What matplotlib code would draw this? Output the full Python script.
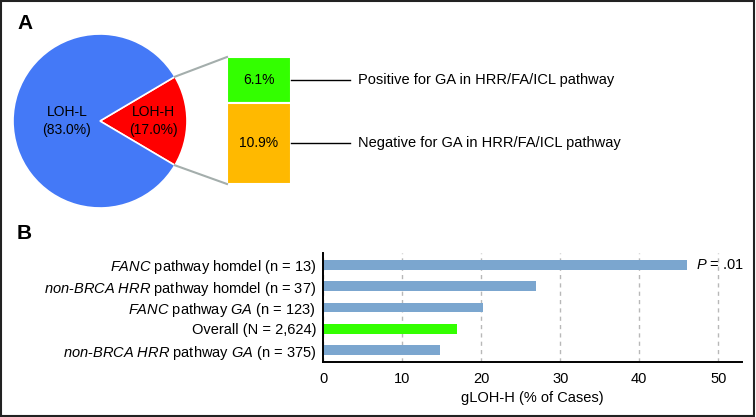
import numpy as np
import matplotlib
matplotlib.use('Agg')
import matplotlib.pyplot as plt
from matplotlib.patches import Rectangle

plt.rcParams['font.family'] = ['Liberation Sans', 'DejaVu Sans']
plt.rcParams['font.size'] = 10.5
plt.rcParams['mathtext.fontset'] = 'custom'
plt.rcParams['mathtext.rm'] = 'Liberation Sans'
plt.rcParams['mathtext.it'] = 'Liberation Sans:italic'

# panel A data
pie_labels = ['LOH-H', 'LOH-L']
pie_values = [17.0, 83.0]
pie_colors = ['#ff0000', '#4479f7']
sub_labels = ['Positive for GA in HRR/FA/ICL pathway',
              'Negative for GA in HRR/FA/ICL pathway']
sub_values = [6.1, 10.9]
sub_colors = ['#33ff00', '#ffb900']

# panel B data
bar_labels = [
    r'$\mathit{FANC}$ pathway homdel (n = 13)',
    r'$\mathit{non}$-$\mathit{BRCA\ HRR}$ pathway homdel (n = 37)',
    r'$\mathit{FANC}$ pathway $\mathit{GA}$ (n = 123)',
    'Overall (N = 2,624)',
    r'$\mathit{non}$-$\mathit{BRCA\ HRR}$ pathway $\mathit{GA}$ (n = 375)',
]
bar_values = [46.1, 27.0, 20.3, 17.0, 14.8]
bar_colors = ['#7ba6cf', '#7ba6cf', '#7ba6cf', '#33ff00', '#7ba6cf']
x_ticks = [0, 10, 20, 30, 40, 50]
p_text = r'$\mathit{P}$ = .01'

W, H = 756, 417
fig = plt.figure(figsize=(W / 100, H / 100), dpi=100)

# ---- panel A, drawn in pixel coordinates ----
ax = fig.add_axes([0, 0, 1, 1])
cx, cy, r = 100, 121, 87
half = pie_values[0] * 3.6 / 2
wedges, _ = ax.pie(pie_values, colors=pie_colors, startangle=-half,
                   center=(cx, cy), radius=r,
                   wedgeprops=dict(edgecolor='white', linewidth=1.2))
ax.set_xlim(0, W)
ax.set_ylim(H, 0)
ax.set_aspect('equal')
ax.axis('off')

for w, lab, val, dist in zip(wedges, pie_labels, pie_values, [0.61, 0.38]):
    ang = np.deg2rad((w.theta1 + w.theta2) / 2)
    ax.text(cx + dist * r * np.cos(ang), cy + dist * r * np.sin(ang),
            f'{lab}\n({val:.1f}%)', ha='center', va='center',
            fontsize=10, linespacing=1.45)

# stacked sub-boxes
bx, bw, btop, bbot = 259, 64, 57, 184
scale = (bbot - btop) / sum(sub_values)
bottom = btop
for val, col, lab in zip(sub_values, sub_colors, sub_labels):
    ax.bar(bx, val * scale, bottom=bottom, width=bw, color=col,
           edgecolor='white', linewidth=1.5)
    ym = bottom + val * scale / 2
    ax.text(bx, ym, f'{val:.1f}%', ha='center', va='center', fontsize=10)
    ax.plot([bx + bw / 2, 350], [ym, ym], color='black', lw=1)
    ax.text(358, ym, lab, ha='left', va='center', fontsize=10.5)
    bottom += val * scale

# connector lines from wedge edges to box corners
t = np.deg2rad(half)
ex = cx + r * np.cos(t)
ax.plot([ex, bx - bw / 2], [cy - r * np.sin(t), btop], color='#a4aeac', lw=1.5)
ax.plot([ex, bx - bw / 2], [cy + r * np.sin(t), bbot], color='#a4aeac', lw=1.5)

ax.text(17, 23, 'A', fontsize=15, fontweight='bold', va='center', ha='left')
ax.text(17, 233, 'B', fontsize=15, fontweight='bold', va='center', ha='left')

# ---- panel B ----
axb = fig.add_axes([323 / W, (H - 362) / H, (742 - 323) / W, (362 - 253) / H])
y = np.arange(len(bar_values))
axb.barh(y, bar_values, height=0.45, color=bar_colors, zorder=2)
axb.set_ylim(len(bar_values) - 0.44, -0.56)
axb.set_xlim(0, 53)
axb.set_xticks(x_ticks)
axb.set_yticks(y)
axb.set_yticklabels(bar_labels, fontsize=10.5)
axb.tick_params(axis='y', length=0, pad=5)
axb.tick_params(axis='x', length=0, pad=7, labelsize=10.5)
axb.grid(axis='x', color='#b8b8b8', ls=(0, (3, 3)), lw=1, zorder=1)
for s in ['top', 'right']:
    axb.spines[s].set_visible(False)
for s in ['left', 'bottom']:
    axb.spines[s].set_linewidth(1.4)
axb.set_xlabel('gLOH-H (% of Cases)', fontsize=10.5, labelpad=4)

axb.annotate(p_text, (bar_values[0], 0), xytext=(6, 0),
             textcoords='offset points', ha='left', va='center', fontsize=10.5)

fig.add_artist(Rectangle((0.001, 0.002), 0.997, 0.995, transform=fig.transFigure,
                         fill=False, edgecolor='#222222', lw=1.5))

fig.savefig('out.png', dpi=100)
